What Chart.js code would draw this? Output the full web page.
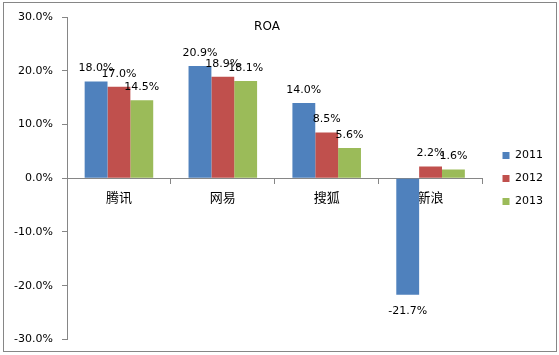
<!DOCTYPE html>
<html><head><meta charset="utf-8">
<script src="https://cdn.jsdelivr.net/npm/chart.js@4/dist/chart.umd.min.js"></script>
<style>html,body{margin:0;padding:0;background:#fff}#wrap{width:559px;height:355px;position:relative}</style>
</head><body><div id="wrap"><canvas id="c" width="559" height="355"></canvas></div>
<script>
const categories = ['腾讯', '网易', '搜狐', '新浪'];
const seriesNames = ['2011', '2012', '2013'];
const v2011 = [18.0, 20.9, 14.0, -21.7];
const v2012 = [17.0, 18.9, 8.5, 2.2];
const v2013 = [14.5, 18.1, 5.6, 1.6];
const yTicks = [-30, -20, -10, 0, 10, 20, 30];
const titleText = 'ROA';
const colors = ['#4F81BD', '#C0504D', '#9BBB59'];
const axisColor = '#868686';
const numFont = '"DejaVu Sans", sans-serif';

const extras = {
  id: 'extras',
  afterLayout(chart) {
    const lg = chart.legend;
    if (lg) { lg.left += 8; lg.right += 8; }
  },
  beforeDraw(chart) {
    const ctx = chart.ctx;
    ctx.save();
    ctx.fillStyle = '#fff';
    ctx.fillRect(0, 0, chart.width, chart.height);
    ctx.strokeStyle = axisColor;
    ctx.lineWidth = 1;
    ctx.strokeRect(3.5, 2.5, 553, 349);
    ctx.restore();
  },
  afterDatasetsDraw(chart) {
    const ctx = chart.ctx;
    ctx.save();
    ctx.font = '11px ' + numFont;
    ctx.fillStyle = '#000';
    ctx.textAlign = 'center';
    ctx.textBaseline = 'middle';
    chart.data.datasets.forEach((ds, i) => {
      const meta = chart.getDatasetMeta(i);
      meta.data.forEach((bar, j) => {
        const v = ds.data[j];
        const txt = v.toFixed(1) + '%';
        const y = v >= 0 ? bar.y - 13 : bar.y + 16;
        ctx.fillText(txt, bar.x, y);
      });
    });
    ctx.font = '12px ' + numFont;
    ctx.fillText(titleText, 267, 27);
    ctx.restore();
  }
};

new Chart(document.getElementById('c'), {
  type: 'bar',
  data: {
    labels: categories,
    datasets: [
      { label: seriesNames[0], data: v2011, backgroundColor: colors[0] },
      { label: seriesNames[1], data: v2012, backgroundColor: colors[1] },
      { label: seriesNames[2], data: v2013, backgroundColor: colors[2] }
    ]
  },
  options: {
    responsive: false,
    animation: false,
    devicePixelRatio: 1,
    layout: { padding: { top: 17, bottom: 15, left: 0, right: 14 } },
    datasets: { bar: { categoryPercentage: 0.66, barPercentage: 1.0 } },
    plugins: {
      legend: {
        position: 'right',
        labels: {
          boxWidth: 7, boxHeight: 7, padding: 12,
          color: '#000',
          font: { family: numFont, size: 11 }
        }
      },
      title: { display: false },
      tooltip: { enabled: false }
    },
    scales: {
      x: {
        position: { y: 0 },
        grid: { display: true, offset: true, drawOnChartArea: false, drawTicks: true, tickLength: 5, color: axisColor },
        border: { display: true, color: axisColor },
        ticks: { color: '#000', padding: 6, font: { family: '"Noto Sans CJK SC", sans-serif', size: 13 } }
      },
      y: {
        min: -30, max: 30,
        afterBuildTicks(scale) { scale.ticks = yTicks.map(v => ({ value: v })); },
        afterFit(scale) { scale.width = 67; },
        grid: { display: true, drawOnChartArea: false, drawTicks: true, tickLength: 5, color: axisColor },
        border: { display: true, color: axisColor },
        ticks: {
          color: '#000', padding: 9,
          font: { family: numFont, size: 11 },
          callback: v => v.toFixed(1) + '%'
        }
      }
    }
  },
  plugins: [extras]
});
</script></body></html>
